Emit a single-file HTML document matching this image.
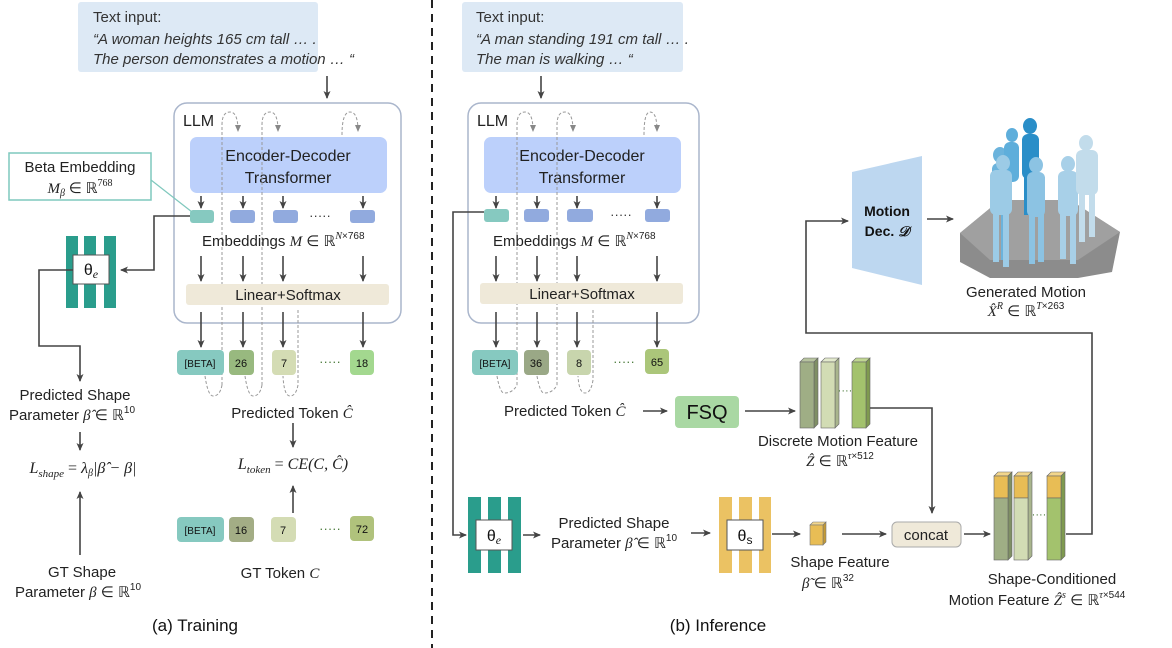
<!DOCTYPE html>
<html><head><meta charset="utf-8"><style>
body{margin:0;background:#fff;}
svg{display:block;font-family:"Liberation Sans",sans-serif;}
.m{font-family:"Liberation Serif",serif;font-style:italic;}
</style></head><body>
<svg width="1172" height="648" viewBox="0 0 1172 648" xmlns="http://www.w3.org/2000/svg">
<defs>
<marker id="a" markerWidth="8" markerHeight="8" refX="7" refY="4" orient="auto" markerUnits="userSpaceOnUse"><path d="M0,0.5 L8,4 L0,7.5 L2,4 Z" fill="#444"/></marker>
<marker id="g" markerWidth="7" markerHeight="7" refX="6" refY="3.5" orient="auto" markerUnits="userSpaceOnUse"><path d="M0,0.5 L7,3.5 L0,6.5 Z" fill="#888"/></marker>
</defs>

<!-- ===== LEFT: TRAINING ===== -->
<rect x="78" y="2" width="240" height="70" rx="3" fill="#dde9f5"/>
<text x="93" y="22" font-size="15" fill="#333">Text input:</text>
<text x="93" y="44" font-size="15" fill="#333" font-style="italic">“A woman heights 165 cm tall … .</text>
<text x="93" y="64" font-size="15" fill="#333" font-style="italic">The person demonstrates a motion … “</text>
<line x1="327" y1="76" x2="327" y2="98" stroke="#444" stroke-width="1.6" marker-end="url(#a)"/>

<rect x="174" y="103" width="227" height="220" rx="13" fill="#fff" stroke="#aab6cc" stroke-width="1.5"/>
<text x="183" y="126" font-size="16" fill="#222">LLM</text>
<rect x="190" y="137" width="197" height="56" rx="7" fill="#bcd0fb"/>
<text x="288" y="161" font-size="16" fill="#222" text-anchor="middle">Encoder-Decoder</text>
<text x="288" y="183" font-size="16" fill="#222" text-anchor="middle">Transformer</text>
<g stroke="#999" stroke-width="1" fill="none" stroke-dasharray="3,2">
<path d="M222,385 L222,125 Q222,112 230,112 Q238,112 238,131" marker-end="url(#g)"/>
<path d="M262,385 L262,125 Q262,112 270,112 Q278,112 278,131" marker-end="url(#g)"/>
<path d="M342,135 Q342,112 350,112 Q358,112 358,131" marker-end="url(#g)"/>
<path d="M205,376 Q208,396 213,396 Q220,396 222,385"/>
<path d="M245,376 Q248,396 253,396 Q260,396 262,385"/>
<path d="M298,310 L298,385 Q296,396 290,396 Q284,396 283,376"/>
</g>
<g stroke="#444" stroke-width="1.6" marker-end="url(#a)">
<line x1="201" y1="196" x2="201" y2="208"/><line x1="243" y1="196" x2="243" y2="208"/><line x1="283" y1="196" x2="283" y2="208"/><line x1="363" y1="196" x2="363" y2="208"/>
<line x1="201" y1="256" x2="201" y2="281"/><line x1="243" y1="256" x2="243" y2="281"/><line x1="283" y1="256" x2="283" y2="281"/><line x1="363" y1="256" x2="363" y2="281"/>
<line x1="201" y1="312" x2="201" y2="347"/><line x1="243" y1="312" x2="243" y2="347"/><line x1="283" y1="312" x2="283" y2="347"/><line x1="363" y1="312" x2="363" y2="347"/>
</g>
<rect x="190" y="210" width="24" height="13" rx="3" fill="#86c9c0"/>
<rect x="230" y="210" width="25" height="13" rx="3" fill="#91aade"/>
<rect x="273" y="210" width="25" height="13" rx="3" fill="#91aade"/>
<rect x="350" y="210" width="25" height="13" rx="3" fill="#91aade"/>
<text x="320" y="220" font-size="13" fill="#333" text-anchor="middle">·····</text>
<text x="202" y="246" font-size="15" fill="#222">Embeddings <tspan class="m">M</tspan> ∈ ℝ<tspan class="m" font-size="10" dy="-7">N</tspan><tspan font-size="10">×768</tspan></text>
<rect x="186" y="284" width="203" height="21" rx="3" fill="#efe9d9"/>
<text x="288" y="300" font-size="15" fill="#222" text-anchor="middle">Linear+Softmax</text>

<rect x="177" y="350" width="47" height="25" rx="4" fill="#86c9c0"/><text x="200" y="367" font-size="10" text-anchor="middle" fill="#111">[BETA]</text>
<rect x="229" y="350" width="25" height="25" rx="4" fill="#98b97f"/><text x="241" y="367" font-size="11" text-anchor="middle" fill="#111">26</text>
<rect x="272" y="350" width="24" height="25" rx="4" fill="#d4dcb4"/><text x="284" y="367" font-size="11" text-anchor="middle" fill="#111">7</text>
<text x="330" y="366" font-size="13" fill="#4a7a3a" text-anchor="middle">·····</text>
<rect x="350" y="350" width="24" height="25" rx="4" fill="#a3d88f"/><text x="362" y="367" font-size="11" text-anchor="middle" fill="#111">18</text>

<text x="292" y="418" font-size="15" fill="#222" text-anchor="middle">Predicted Token <tspan class="m">Ĉ</tspan></text>
<line x1="293" y1="423" x2="293" y2="447" stroke="#444" stroke-width="1.6" marker-end="url(#a)"/>
<text x="293" y="469" font-size="16" fill="#222" text-anchor="middle" class="m">L<tspan font-size="11" dy="4">token</tspan><tspan dy="-4" font-style="normal"> = </tspan>CE(C, Ĉ)</text>
<line x1="293" y1="513" x2="293" y2="486" stroke="#444" stroke-width="1.6" marker-end="url(#a)"/>
<rect x="177" y="517" width="47" height="25" rx="4" fill="#86c9c0"/><text x="200" y="534" font-size="10" text-anchor="middle" fill="#111">[BETA]</text>
<rect x="229" y="517" width="25" height="25" rx="4" fill="#a3ad85"/><text x="241" y="534" font-size="11" text-anchor="middle" fill="#111">16</text>
<rect x="271" y="517" width="25" height="25" rx="4" fill="#d4dcb4"/><text x="283" y="534" font-size="11" text-anchor="middle" fill="#111">7</text>
<text x="330" y="533" font-size="13" fill="#4a7a3a" text-anchor="middle">·····</text>
<rect x="350" y="516" width="24" height="25" rx="4" fill="#b0c27c"/><text x="362" y="533" font-size="11" text-anchor="middle" fill="#111">72</text>
<text x="280" y="578" font-size="15" fill="#222" text-anchor="middle">GT Token <tspan class="m">C</tspan></text>

<rect x="9" y="153" width="142" height="47" fill="#fff" stroke="#7fc8bd" stroke-width="1.5"/>
<text x="80" y="172" font-size="15" fill="#222" text-anchor="middle">Beta Embedding</text>
<text x="80" y="193" font-size="15" fill="#222" text-anchor="middle" class="m">M<tspan font-size="10" dy="3">β</tspan><tspan dy="-3" font-style="normal"> ∈ ℝ</tspan><tspan font-size="10" dy="-7" font-style="normal">768</tspan></text>
<line x1="151" y1="180" x2="192" y2="212" stroke="#7fc8bd" stroke-width="1.2"/>
<polyline points="190,216 154,216 154,270 121,270" fill="none" stroke="#444" stroke-width="1.6" marker-end="url(#a)"/>
<rect x="66" y="236" width="12" height="72" fill="#2a9d8c"/><rect x="84" y="236" width="12" height="72" fill="#2a9d8c"/><rect x="104" y="236" width="12" height="72" fill="#2a9d8c"/>
<rect x="73" y="255" width="36" height="29" fill="#fff" stroke="#555" stroke-width="1"/>
<text x="91" y="275" font-size="16" fill="#111" text-anchor="middle">θ<tspan class="m" font-size="12" dy="3">e</tspan></text>
<polyline points="73,270 39,270 39,346 80,346 80,381" fill="none" stroke="#444" stroke-width="1.6" marker-end="url(#a)"/>
<text x="75" y="400" font-size="15" fill="#222" text-anchor="middle">Predicted Shape</text>
<text x="72" y="420" font-size="15" fill="#222" text-anchor="middle">Parameter <tspan class="m">β̂</tspan> ∈ ℝ<tspan font-size="10" dy="-7">10</tspan></text>
<line x1="80" y1="432" x2="80" y2="450" stroke="#444" stroke-width="1.6" marker-end="url(#a)"/>
<text x="83" y="473" font-size="16" fill="#222" text-anchor="middle" class="m">L<tspan font-size="11" dy="4">shape</tspan><tspan dy="-4" font-style="normal"> = </tspan>λ<tspan font-size="10" dy="3">β</tspan><tspan dy="-3">|β̂ − β|</tspan></text>
<line x1="80" y1="555" x2="80" y2="492" stroke="#444" stroke-width="1.6" marker-end="url(#a)"/>
<text x="82" y="577" font-size="15" fill="#222" text-anchor="middle">GT Shape</text>
<text x="78" y="597" font-size="15" fill="#222" text-anchor="middle">Parameter  <tspan class="m">β</tspan> ∈ ℝ<tspan font-size="10" dy="-7">10</tspan></text>
<text x="195" y="631" font-size="17" fill="#111" text-anchor="middle">(a) Training</text>

<line x1="432" y1="0" x2="432" y2="648" stroke="#222" stroke-width="2" stroke-dasharray="8,6"/>

<!-- ===== RIGHT: INFERENCE ===== -->
<rect x="462" y="2" width="221" height="70" rx="3" fill="#dde9f5"/>
<text x="476" y="22" font-size="15" fill="#333">Text input:</text>
<text x="476" y="44" font-size="15" fill="#333" font-style="italic">“A man standing 191 cm tall … .</text>
<text x="476" y="64" font-size="15" fill="#333" font-style="italic">The man is walking … “</text>
<line x1="541" y1="76" x2="541" y2="98" stroke="#444" stroke-width="1.6" marker-end="url(#a)"/>

<rect x="468" y="103" width="231" height="220" rx="13" fill="#fff" stroke="#aab6cc" stroke-width="1.5"/>
<text x="477" y="126" font-size="16" fill="#222">LLM</text>
<rect x="484" y="137" width="197" height="56" rx="7" fill="#bcd0fb"/>
<text x="582" y="161" font-size="16" fill="#222" text-anchor="middle">Encoder-Decoder</text>
<text x="582" y="183" font-size="16" fill="#222" text-anchor="middle">Transformer</text>
<g stroke="#999" stroke-width="1" fill="none" stroke-dasharray="3,2">
<path d="M517,385 L517,125 Q517,112 525,112 Q533,112 533,131" marker-end="url(#g)"/>
<path d="M557,385 L557,125 Q557,112 565,112 Q573,112 573,131" marker-end="url(#g)"/>
<path d="M644,135 Q644,112 650,112 Q657,112 657,131" marker-end="url(#g)"/>
<path d="M497,376 Q500,393 504,393 Q513,393 517,385"/>
<path d="M537,376 Q540,393 544,393 Q553,393 557,385"/>
<path d="M593,310 L593,380 Q591,393 585,393 Q579,393 578,376"/>
</g>
<g stroke="#444" stroke-width="1.6" marker-end="url(#a)">
<line x1="496" y1="196" x2="496" y2="208"/><line x1="537" y1="196" x2="537" y2="208"/><line x1="577" y1="196" x2="577" y2="208"/><line x1="657" y1="196" x2="657" y2="208"/>
<line x1="496" y1="256" x2="496" y2="281"/><line x1="537" y1="256" x2="537" y2="281"/><line x1="577" y1="256" x2="577" y2="281"/><line x1="657" y1="256" x2="657" y2="281"/>
<line x1="496" y1="312" x2="496" y2="347"/><line x1="537" y1="312" x2="537" y2="347"/><line x1="577" y1="312" x2="577" y2="347"/><line x1="657" y1="312" x2="657" y2="347"/>
</g>
<rect x="484" y="209" width="25" height="13" rx="3" fill="#86c9c0"/>
<rect x="524" y="209" width="25" height="13" rx="3" fill="#91aade"/>
<rect x="567" y="209" width="26" height="13" rx="3" fill="#91aade"/>
<rect x="645" y="209" width="25" height="13" rx="3" fill="#91aade"/>
<text x="621" y="219" font-size="13" fill="#333" text-anchor="middle">·····</text>
<text x="493" y="246" font-size="15" fill="#222">Embeddings <tspan class="m">M</tspan> ∈ ℝ<tspan class="m" font-size="10" dy="-7">N</tspan><tspan font-size="10">×768</tspan></text>
<rect x="480" y="283" width="203" height="21" rx="3" fill="#efe9d9"/>
<text x="582" y="299" font-size="15" fill="#222" text-anchor="middle">Linear+Softmax</text>

<rect x="472" y="350" width="46" height="25" rx="4" fill="#86c9c0"/><text x="495" y="367" font-size="10" text-anchor="middle" fill="#111">[BETA]</text>
<rect x="524" y="350" width="25" height="25" rx="4" fill="#9aa886"/><text x="536" y="367" font-size="11" text-anchor="middle" fill="#111">36</text>
<rect x="567" y="350" width="24" height="25" rx="4" fill="#c8d5ad"/><text x="579" y="367" font-size="11" text-anchor="middle" fill="#111">8</text>
<text x="624" y="366" font-size="13" fill="#4a7a3a" text-anchor="middle">·····</text>
<rect x="645" y="349" width="24" height="25" rx="4" fill="#abc67a"/><text x="657" y="366" font-size="11" text-anchor="middle" fill="#111">65</text>

<text x="504" y="416" font-size="15" fill="#222">Predicted Token <tspan class="m">Ĉ</tspan></text>
<line x1="643" y1="411" x2="667" y2="411" stroke="#444" stroke-width="1.6" marker-end="url(#a)"/>
<rect x="675" y="396" width="64" height="32" rx="4" fill="#a9d8a3"/>
<text x="707" y="419" font-size="20" fill="#111" text-anchor="middle">FSQ</text>
<line x1="745" y1="411" x2="795" y2="411" stroke="#444" stroke-width="1.6" marker-end="url(#a)"/>
<g stroke="#666" stroke-width="0.6">
<polygon points="800,362 804,358 818,358 814,362" fill="#b7c39f"/><polygon points="814,362 818,358 818,424 814,428" fill="#7f8f64"/><rect x="800" y="362" width="14" height="66" fill="#9fae85"/>
<polygon points="821,362 825,358 839,358 835,362" fill="#e2e9cc"/><polygon points="835,362 839,358 839,424 835,428" fill="#a9b58d"/><rect x="821" y="362" width="14" height="66" fill="#d2dcb4"/>
<polygon points="852,362 856,358 870,358 866,362" fill="#c0d692"/><polygon points="866,362 870,358 870,424 866,428" fill="#7f9a4f"/><rect x="852" y="362" width="14" height="66" fill="#a3c26d"/>
</g>
<text x="845" y="394" font-size="11" fill="#4a7a3a" text-anchor="middle">····</text>
<polyline points="870,408 932,408 932,513" fill="none" stroke="#444" stroke-width="1.6" marker-end="url(#a)"/>
<text x="838" y="446" font-size="15" fill="#222" text-anchor="middle">Discrete Motion Feature</text>
<text x="840" y="466" font-size="15" fill="#222" text-anchor="middle"><tspan class="m">Ẑ</tspan> ∈ ℝ<tspan class="m" font-size="10" dy="-7">τ</tspan><tspan font-size="10">×512</tspan></text>

<polyline points="484,212 453,212 453,535 466,535" fill="none" stroke="#444" stroke-width="1.6" marker-end="url(#a)"/>
<rect x="468" y="497" width="13" height="76" fill="#2a9d8c"/><rect x="488" y="497" width="13" height="76" fill="#2a9d8c"/><rect x="508" y="497" width="13" height="76" fill="#2a9d8c"/>
<rect x="476" y="520" width="36" height="30" fill="#fff" stroke="#555" stroke-width="1"/>
<text x="494" y="541" font-size="16" fill="#111" text-anchor="middle">θ<tspan class="m" font-size="12" dy="3">e</tspan></text>
<line x1="523" y1="535" x2="540" y2="535" stroke="#444" stroke-width="1.6" marker-end="url(#a)"/>
<text x="614" y="528" font-size="15" fill="#222" text-anchor="middle">Predicted Shape</text>
<text x="614" y="548" font-size="15" fill="#222" text-anchor="middle">Parameter <tspan class="m">β̂</tspan> ∈ ℝ<tspan font-size="10" dy="-7">10</tspan></text>
<line x1="691" y1="533" x2="710" y2="533" stroke="#444" stroke-width="1.6" marker-end="url(#a)"/>
<rect x="719" y="497" width="13" height="76" fill="#ebc263"/><rect x="739" y="497" width="13" height="76" fill="#ebc263"/><rect x="759" y="497" width="12" height="76" fill="#ebc263"/>
<rect x="727" y="520" width="36" height="30" fill="#fff" stroke="#555" stroke-width="1"/>
<text x="745" y="541" font-size="16" fill="#111" text-anchor="middle">θ<tspan font-size="12" dy="3">s</tspan></text>
<line x1="772" y1="534" x2="800" y2="534" stroke="#444" stroke-width="1.6" marker-end="url(#a)"/>
<g stroke="#777" stroke-width="0.6">
<polygon points="810,525 813,522 826,522 823,525" fill="#f2d68c"/><polygon points="823,525 826,522 826,542 823,545" fill="#c49a35"/><rect x="810" y="525" width="13" height="20" fill="#e8bd55"/>
</g>
<text x="840" y="567" font-size="15" fill="#222" text-anchor="middle">Shape Feature</text>
<text x="828" y="588" font-size="15" fill="#222" text-anchor="middle"><tspan class="m">β̃</tspan> ∈ ℝ<tspan font-size="10" dy="-7">32</tspan></text>
<line x1="842" y1="534" x2="886" y2="534" stroke="#444" stroke-width="1.6" marker-end="url(#a)"/>
<rect x="892" y="522" width="69" height="25" rx="5" fill="#efe9d9" stroke="#aaa" stroke-width="1"/>
<text x="926" y="540" font-size="15" fill="#222" text-anchor="middle">concat</text>
<line x1="964" y1="534" x2="990" y2="534" stroke="#444" stroke-width="1.6" marker-end="url(#a)"/>
<g stroke="#666" stroke-width="0.6">
<polygon points="994,476 998,472 1012,472 1008,476" fill="#f2d68c"/><polygon points="1008,476 1012,472 1012,556 1008,560" fill="#7f8f64"/><rect x="994" y="476" width="14" height="22" fill="#e8bd55"/><rect x="994" y="498" width="14" height="62" fill="#9fae85"/>
<polygon points="1014,476 1018,472 1032,472 1028,476" fill="#f2d68c"/><polygon points="1028,476 1032,472 1032,556 1028,560" fill="#a9b58d"/><rect x="1014" y="476" width="14" height="22" fill="#e8bd55"/><rect x="1014" y="498" width="14" height="62" fill="#d2dcb4"/>
<polygon points="1047,476 1051,472 1065,472 1061,476" fill="#f2d68c"/><polygon points="1061,476 1065,472 1065,556 1061,560" fill="#7f9a4f"/><rect x="1047" y="476" width="14" height="22" fill="#e8bd55"/><rect x="1047" y="498" width="14" height="62" fill="#a3c26d"/>
</g>
<text x="1039" y="518" font-size="11" fill="#4a7a3a" text-anchor="middle">····</text>
<text x="1052" y="584" font-size="15" fill="#222" text-anchor="middle">Shape-Conditioned</text>
<text x="1037" y="605" font-size="15" fill="#222" text-anchor="middle">Motion Feature <tspan class="m">Ẑ</tspan><tspan class="m" font-size="10" dy="-7">s</tspan><tspan dy="7"> ∈ ℝ</tspan><tspan class="m" font-size="10" dy="-7">τ</tspan><tspan font-size="10">×544</tspan></text>
<polyline points="1066,534 1092,534 1092,333 806,333 806,221 848,221" fill="none" stroke="#444" stroke-width="1.6" marker-end="url(#a)"/>
<polygon points="852,172 922,156 922,285 852,268" fill="#bdd7f0"/>
<text x="887" y="216" font-size="14" font-weight="bold" fill="#111" text-anchor="middle">Motion</text>
<text x="887" y="236" font-size="14" font-weight="bold" fill="#111" text-anchor="middle">Dec. <tspan font-family="Liberation Serif,serif" font-style="italic">𝒟</tspan></text>
<line x1="927" y1="219" x2="953" y2="219" stroke="#444" stroke-width="1.6" marker-end="url(#a)"/>
<polygon points="960,233 1000,200 1070,200 1120,232 1112,272 1078,278 990,278 960,262" fill="#8c8c8c"/>
<polygon points="960,233 1000,200 1070,200 1120,232 1078,260 990,260" fill="#a0a0a0"/>
<g fill="#8cc3e3">
<ellipse cx="1000" cy="155" rx="7" ry="8" fill="#6bb3dc"/><rect x="992" y="163" width="16" height="40" rx="6" fill="#6bb3dc"/><rect x="994" y="200" width="5" height="55" fill="#6bb3dc"/><rect x="1001" y="200" width="5" height="60" fill="#6bb3dc"/>
<ellipse cx="1030" cy="126" rx="7" ry="8" fill="#2a8ec8"/><rect x="1022" y="134" width="17" height="45" rx="6" fill="#2a8ec8"/><rect x="1024" y="175" width="6" height="40" fill="#2a8ec8"/>
<ellipse cx="1012" cy="135" rx="6" ry="7" fill="#5eaedb"/><rect x="1004" y="142" width="15" height="40" rx="6" fill="#5eaedb"/>
<ellipse cx="1003" cy="163" rx="7" ry="8" fill="#9ccbe6"/><rect x="990" y="170" width="22" height="45" rx="6" fill="#9ccbe6"/><rect x="993" y="212" width="6" height="50" fill="#9ccbe6"/><rect x="1003" y="212" width="6" height="55" fill="#9ccbe6"/>
<ellipse cx="1036" cy="165" rx="7" ry="8"/><rect x="1027" y="172" width="18" height="45" rx="6"/><rect x="1029" y="214" width="6" height="50"/><rect x="1038" y="214" width="6" height="48"/>
<ellipse cx="1068" cy="164" rx="7" ry="8" fill="#a8d0e8"/><rect x="1058" y="171" width="20" height="45" rx="6" fill="#a8d0e8"/><rect x="1060" y="214" width="6" height="45" fill="#a8d0e8"/><rect x="1070" y="214" width="6" height="50" fill="#a8d0e8"/>
<ellipse cx="1086" cy="143" rx="7" ry="8" fill="#c2dceb"/><rect x="1076" y="150" width="22" height="45" rx="6" fill="#c2dceb"/><rect x="1079" y="192" width="6" height="50" fill="#c2dceb"/><rect x="1089" y="192" width="6" height="45" fill="#c2dceb"/>
</g>
<text x="1026" y="297" font-size="15" fill="#222" text-anchor="middle">Generated Motion</text>
<text x="1026" y="316" font-size="15" fill="#222" text-anchor="middle"><tspan class="m">X̂</tspan><tspan class="m" font-size="10" dy="-7">R</tspan><tspan dy="7"> ∈ ℝ</tspan><tspan class="m" font-size="10" dy="-7">T</tspan><tspan font-size="10">×263</tspan></text>
<text x="718" y="631" font-size="17" fill="#111" text-anchor="middle">(b) Inference</text>
</svg>
</body></html>
